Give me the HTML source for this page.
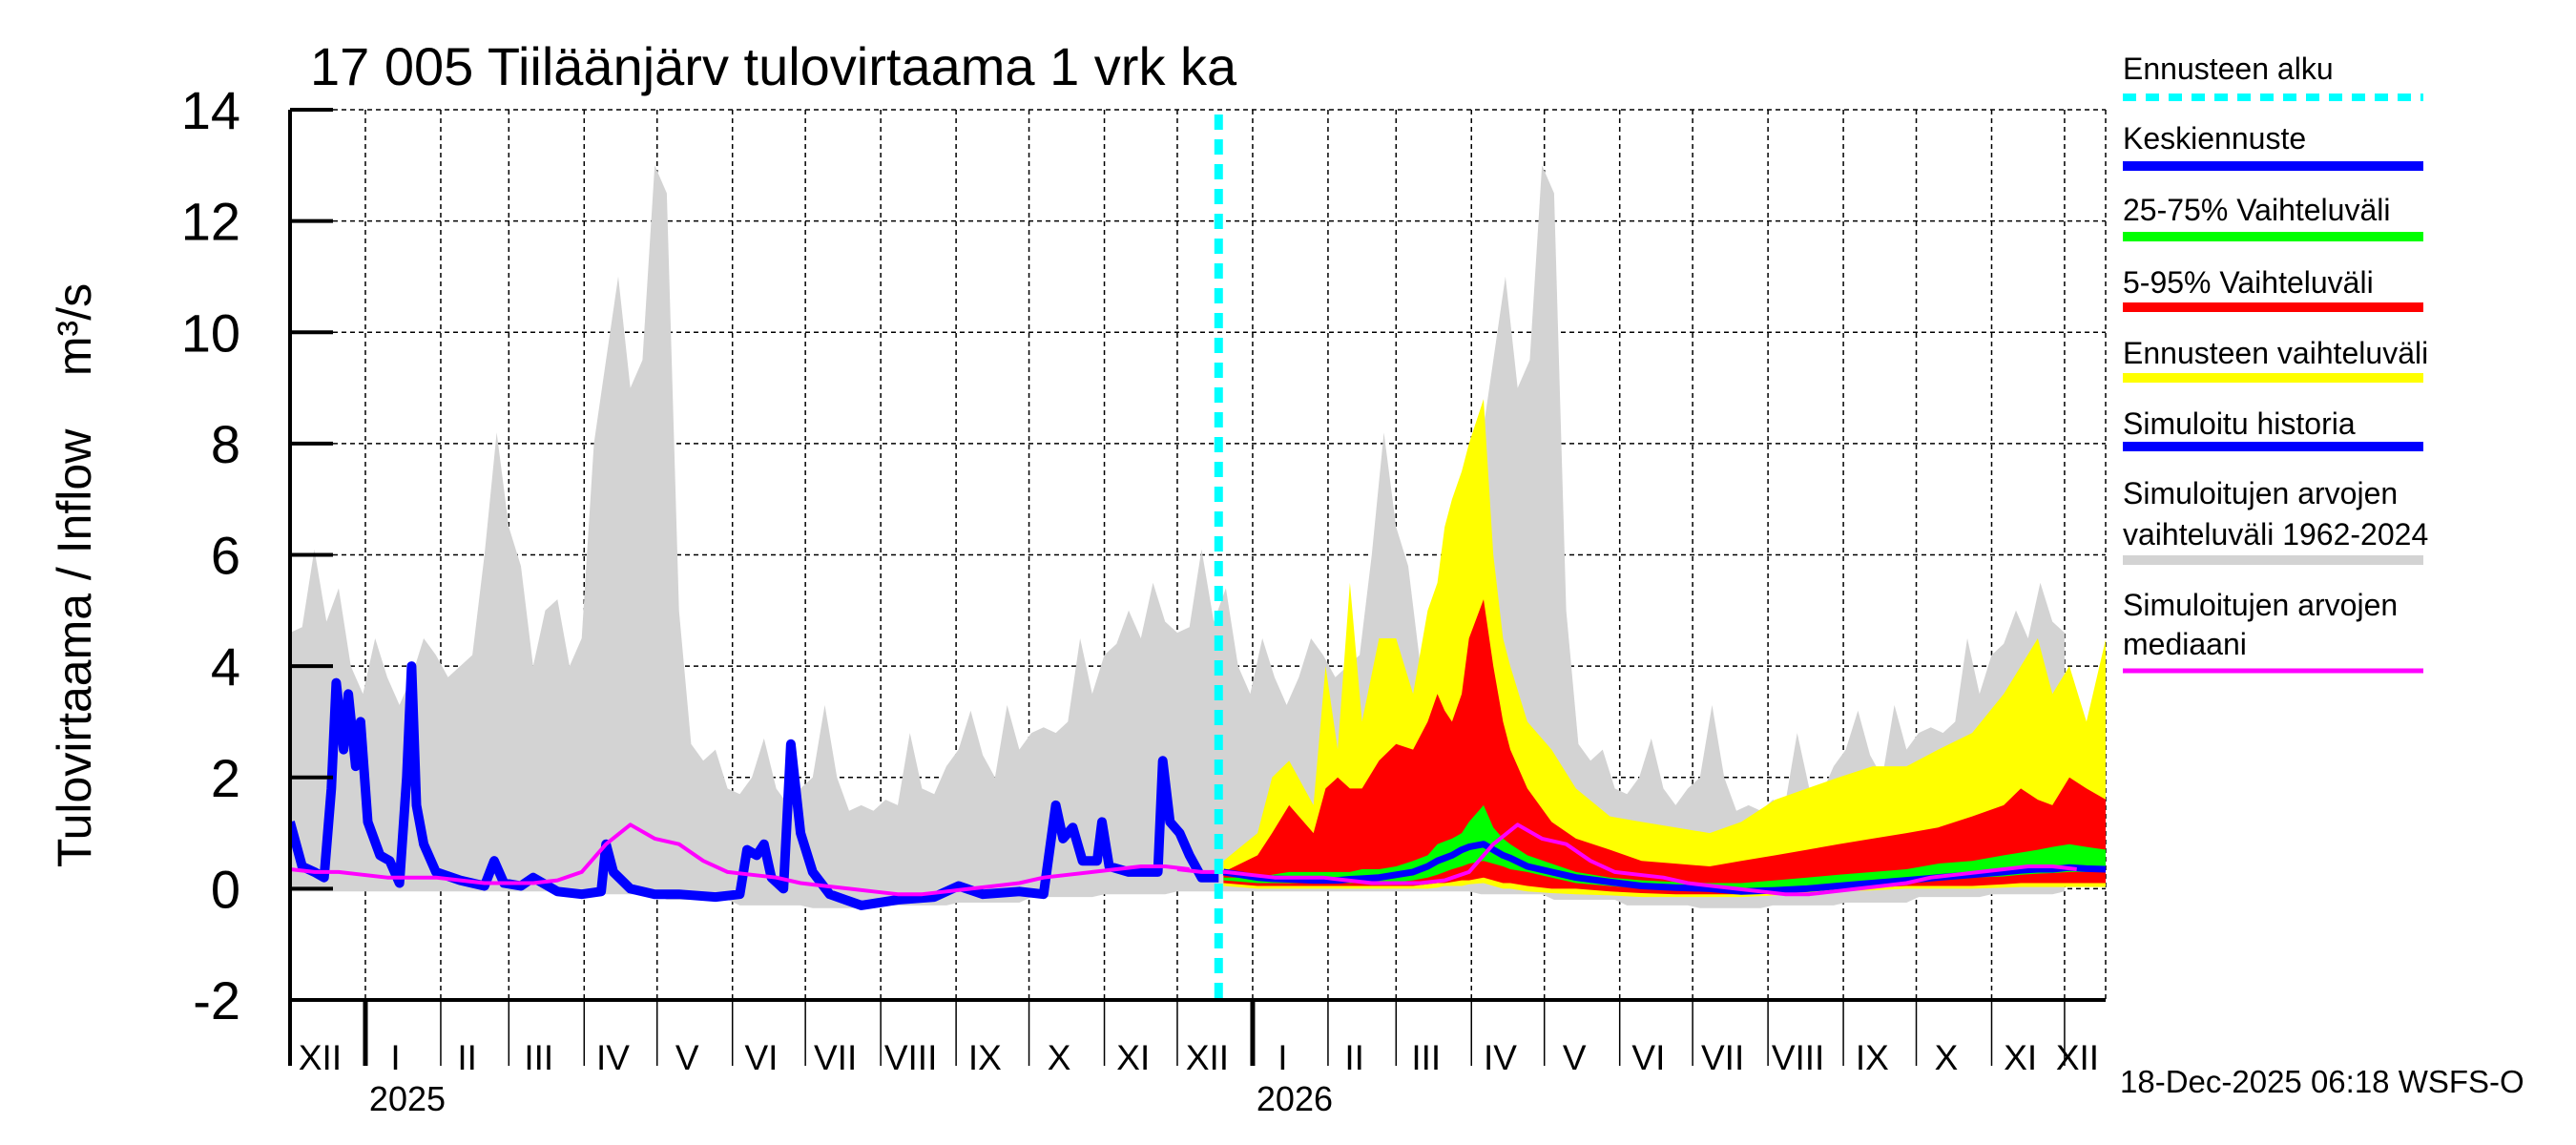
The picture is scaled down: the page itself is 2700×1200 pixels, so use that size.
<!DOCTYPE html>
<html><head><meta charset="utf-8"><style>
html,body{margin:0;padding:0;background:#fff;}
svg{display:block;font-family:"Liberation Sans",Arial,sans-serif;}
</style></head><body>
<svg id="chart" width="2700" height="1200" viewBox="0 0 2700 1200" xmlns="http://www.w3.org/2000/svg">
<rect width="2700" height="1200" fill="#fff"/>
<defs><clipPath id="plotclip"><rect x="304" y="115" width="1903" height="933"/></clipPath></defs>
<g id="grid"></g>
<g id="marks" clip-path="url(#plotclip)"></g>
<g id="axes"></g>
<text x="325" y="89" font-size="56">17 005 Tiiläänjärv tulovirtaama 1 vrk ka</text>
<text transform="translate(95,603) rotate(-90)" text-anchor="middle" font-size="50" style="white-space:pre">Tulovirtaama / Inflow    m³/s</text>
<text x="2222" y="1145" font-size="33">18-Dec-2025 06:18 WSFS-O</text>
<g id="legend" font-size="32">
 <g><text x="2225" y="83">Ennusteen alku</text><line x1="2225" y1="102" x2="2540" y2="102" stroke="#00ffff" stroke-width="8" stroke-dasharray="14,10"/></g>
 <g><text x="2225" y="156">Keskiennuste</text><line x1="2225" y1="174" x2="2540" y2="174" stroke="#0000ff" stroke-width="10"/></g>
 <g><text x="2225" y="231">25-75% Vaihteluväli</text><line x1="2225" y1="248" x2="2540" y2="248" stroke="#00ff00" stroke-width="10"/></g>
 <g><text x="2225" y="307">5-95% Vaihteluväli</text><line x1="2225" y1="322" x2="2540" y2="322" stroke="#ff0000" stroke-width="10"/></g>
 <g><text x="2225" y="381">Ennusteen vaihteluväli</text><line x1="2225" y1="396" x2="2540" y2="396" stroke="#ffff00" stroke-width="10"/></g>
 <g><text x="2225" y="455">Simuloitu historia</text><line x1="2225" y1="468" x2="2540" y2="468" stroke="#0000ff" stroke-width="10"/></g>
 <g><text x="2225" y="528">Simuloitujen arvojen</text><text x="2225" y="571">vaihteluväli 1962-2024</text><line x1="2225" y1="587" x2="2540" y2="587" stroke="#d3d3d3" stroke-width="10"/></g>
 <g><text x="2225" y="645">Simuloitujen arvojen</text><text x="2225" y="686">mediaani</text><line x1="2225" y1="703" x2="2540" y2="703" stroke="#ff00ff" stroke-width="5"/></g>
</g>
</svg>
<script>
// ---- data ----
const yTicks = [-2,0,2,4,6,8,10,12,14];
const monthLabels = ["XII","I","II","III","IV","V","VI","VII","VIII","IX","X","XI","XII","I","II","III","IV","V","VI","VII","VIII","IX","X","XI","XII"];
const monthStartDays = [0,31,62,90,121,151,182,212,243,274,304,335,365,396,427,455,486,516,547,577,608,639,669,700,730];
const yearLabels = ["2025","2026"];
const yearDays = [31,396];
const forecastStartDay = 382;
// climatology (5-day steps from 1 Dec)
const climMax = [4.6,4.7,6.1,4.8,5.4,4.0, 3.5,4.5,3.8,3.3,3.8,4.5, 4.2,3.8,4.0,4.2,6.0,8.2, 6.5,5.8,4.0,5.0,5.2,4.0, 4.5,8.0,9.5,11.0,9.0,9.5, 13.0,12.5,5.0,2.6,2.3,2.5, 1.8,1.7,2.0,2.7,1.8,1.5, 1.8,2.0,3.3,2.0,1.4,1.5, 1.4,1.6,1.5,2.8,1.8,1.7, 2.2,2.5,3.2,2.4,2.0,3.3, 2.5,2.8,2.9,2.8,3.0,4.5, 3.5,4.2,4.4,5.0,4.5,5.5, 4.8];
const climMinMonthly = [-0.05,-0.05,-0.05,-0.05,-0.1,-0.2,-0.3,-0.35,-0.3,-0.25,-0.15,-0.1,-0.05];
const climMedian = [0.35,0.3,0.3,0.25,0.2,0.2,0.2,0.15,0.1,0.1,0.1,0.15,0.3,0.8,1.15,0.9,0.8,0.5,0.3,0.25,0.2,0.1,0.05,0.0,-0.05,-0.1,-0.1,-0.05,0.0,0.05,0.1,0.2,0.25,0.3,0.35,0.4,0.4,0.35];
// simulated history
const histDays = [0,5,10,14,17,19,22,24,27,29,32,37,41,45,48,50,52,55,60,70,80,84,88,95,100,110,120,128,130,133,140,150,160,175,185,188,192,195,198,203,206,210,215,222,235,250,265,275,285,300,310,315,318,322,326,332,334,337,345,355,357,359,362,366,370,375,382];
const histVals = [1.2,0.4,0.3,0.2,1.8,3.7,2.5,3.5,2.2,3.0,1.2,0.6,0.5,0.1,2.0,4.0,1.5,0.8,0.3,0.15,0.05,0.5,0.1,0.05,0.2,-0.05,-0.1,-0.05,0.8,0.3,0.0,-0.1,-0.1,-0.15,-0.1,0.7,0.6,0.8,0.2,0.0,2.6,1.0,0.3,-0.1,-0.3,-0.2,-0.15,0.05,-0.1,-0.05,-0.1,1.5,0.9,1.1,0.5,0.5,1.2,0.4,0.3,0.3,0.3,2.3,1.2,1.0,0.6,0.2,0.2];
// forecast
const fcDays = [384,398,404,411,421,426,431,436,441,448,455,462,468,472,475,478,482,485,491,495,499,502,509,519,529,543,556,570,584,597,611,624,637,651,665,678,692,705,712,719,725,732,739,747];
const yellowHigh = [0.5,1.0,2.0,2.3,1.5,4.0,2.5,5.5,3.0,4.5,4.5,3.5,5.0,5.5,6.5,7.0,7.5,8.0,8.8,6.0,4.5,4.0,3.0,2.5,1.8,1.3,1.2,1.1,1.0,1.2,1.6,1.8,2.0,2.2,2.2,2.5,2.8,3.5,4.0,4.5,3.5,4.0,3.0,4.5];
const yellowLow  = [0.05,0.0,0.0,0.0,0.0,0.0,0.0,0.0,0.0,0.0,0.0,0.0,0.0,0.02,0.05,0.05,0.05,0.08,0.1,0.05,0.0,0.0,-0.05,-0.08,-0.1,-0.12,-0.15,-0.15,-0.15,-0.15,-0.12,-0.1,-0.05,-0.03,0.0,0.0,0.0,0.02,0.03,0.03,0.03,0.03,0.03,0.03];
const redHigh = [0.3,0.6,1.0,1.5,1.0,1.8,2.0,1.8,1.8,2.3,2.6,2.5,3.0,3.5,3.2,3.0,3.5,4.5,5.2,4.0,3.0,2.5,1.8,1.2,0.9,0.7,0.5,0.45,0.4,0.5,0.6,0.7,0.8,0.9,1.0,1.1,1.3,1.5,1.8,1.6,1.5,2.0,1.8,1.6];
const redLow  = [0.1,0.05,0.05,0.05,0.05,0.05,0.05,0.05,0.05,0.05,0.05,0.05,0.08,0.1,0.1,0.12,0.15,0.15,0.2,0.15,0.1,0.1,0.05,0.0,0.0,-0.05,-0.08,-0.1,-0.1,-0.1,-0.08,-0.05,0.0,0.02,0.05,0.05,0.05,0.08,0.1,0.1,0.1,0.1,0.1,0.1];
const greenHigh = [0.2,0.2,0.25,0.3,0.3,0.3,0.3,0.3,0.35,0.35,0.4,0.5,0.6,0.8,0.85,0.9,1.0,1.2,1.5,1.1,0.9,0.8,0.6,0.45,0.3,0.2,0.15,0.12,0.1,0.1,0.15,0.2,0.25,0.3,0.35,0.45,0.5,0.6,0.65,0.7,0.75,0.8,0.75,0.7];
const greenLow  = [0.15,0.1,0.1,0.1,0.1,0.1,0.1,0.1,0.1,0.1,0.12,0.15,0.2,0.25,0.3,0.35,0.4,0.45,0.5,0.45,0.4,0.35,0.3,0.2,0.1,0.05,0.0,-0.03,-0.05,-0.05,0.0,0.03,0.05,0.1,0.12,0.15,0.2,0.22,0.25,0.27,0.28,0.3,0.3,0.3];
const meanFc = [0.3,0.2,0.18,0.17,0.15,0.15,0.15,0.17,0.18,0.2,0.25,0.3,0.4,0.5,0.55,0.6,0.7,0.75,0.8,0.7,0.6,0.55,0.4,0.3,0.2,0.12,0.05,0.02,0.0,-0.05,-0.03,0.0,0.05,0.1,0.15,0.2,0.25,0.3,0.33,0.35,0.35,0.38,0.36,0.35];

// ---- axis functions ----
const X0=304, X1=2207, Y0=115, Y1=1048, DAYS=746.9, VMIN=-2, VMAX=14;
const xs = d => X0 + d*(X1-X0)/DAYS;
const ys = v => Y1 - (v-VMIN)*(Y1-Y0)/(VMAX-VMIN);
const NS="http://www.w3.org/2000/svg";
function mk(tag, attrs, parent){const e=document.createElementNS(NS,tag);for(const k in attrs)e.setAttribute(k,attrs[k]);parent.appendChild(e);return e;}
const grid=document.getElementById('grid'), marks=document.getElementById('marks'), axes=document.getElementById('axes');
function pts(days, vals){return days.map((d,i)=>xs(d).toFixed(1)+','+ys(vals[i]).toFixed(1));}
function band(days, lo, hi, color, name){
  const p=pts(days,hi).concat(pts(days,lo).reverse());
  const e=mk('polygon',{points:p.join(' '),fill:color},marks);
  
  
}
function line(days, vals, color, w, name){
  const e=mk('polyline',{points:pts(days,vals).join(' '),fill:'none',stroke:color,'stroke-width':w,'stroke-linejoin':'round'},marks);
  
  
}

// grid
yTicks.forEach(v=>{
  if(v>VMIN){const g=mk('line',{x1:X0,x2:X1,y1:ys(v),y2:ys(v),stroke:'#000','stroke-width':1.5,'stroke-dasharray':'5,4'},grid);
  
  }
});
monthStartDays.forEach(d=>{
  if(d>0){const g=mk('line',{x1:xs(d),x2:xs(d),y1:Y0,y2:Y1,stroke:'#000','stroke-width':1.5,'stroke-dasharray':'5,4'},grid);
  
  }
});
{const g=mk('line',{x1:X1,x2:X1,y1:Y0,y2:Y1,stroke:'#000','stroke-width':1.5,'stroke-dasharray':'5,4'},grid);

}

// climatology range (two years)
const climDays = climMax.map((_,i)=>i*5);
const climMin = climDays.map(d=>climMinMonthly[Math.min(12,Math.floor(d/30.4))]);
[0,365].forEach(off=>{
  band(climDays.map(d=>d+off).concat([365+off]), climMin.concat([climMin[0]]), climMax.concat([climMax[0]]), '#d3d3d3', 'simulated-range-area');
});
// forecast bands
band(fcDays, yellowLow, yellowHigh, '#ffff00', 'forecast-range-area');
band(fcDays, redLow, redHigh, '#ff0000', 'range-5-95-area');
band(fcDays, greenLow, greenHigh, '#00ff00', 'range-25-75-area');
line(fcDays, meanFc, '#0000ff', 7, 'mean-forecast-line');
// history
line(histDays, histVals, '#0000ff', 10, 'simulated-history-line');
// median (two years)
[0,365].forEach(off=>{
  line(climMedian.map((_,i)=>i*10+off), climMedian, '#ff00ff', 4, 'simulated-median-line');
});
// forecast start line
{const e=mk('line',{x1:xs(forecastStartDay),x2:xs(forecastStartDay),y1:Y0+5,y2:Y1,stroke:'#00ffff','stroke-width':9,'stroke-dasharray':'16,10'},marks);

}

// axes
mk('line',{x1:X0,x2:X0,y1:Y0,y2:1117,stroke:'#000','stroke-width':4},axes);
mk('line',{x1:X0-2,x2:X1,y1:Y1,y2:Y1,stroke:'#000','stroke-width':4},axes);
yTicks.forEach(v=>{
  const t=mk('line',{x1:X0,x2:X0+45,y1:ys(v),y2:ys(v),stroke:'#000','stroke-width':4},axes);
  
  
  const l=mk('text',{x:252,y:ys(v)+20,'text-anchor':'end','font-size':56},axes);
  l.textContent=v;
  
  
});
monthStartDays.forEach((d,i)=>{
  if(d>0){
    const thick = yearDays.indexOf(d)>=0;
    const t=mk('line',{x1:xs(d),x2:xs(d),y1:Y1,y2:1117,stroke:'#000','stroke-width':thick?5:1.5},axes);
    
    
  }
  const end = i+1<monthStartDays.length ? monthStartDays[i+1] : DAYS;
  const l=mk('text',{x:(xs(d)+xs(Math.min(end,DAYS)))/2-8,y:1121,'text-anchor':'middle','font-size':37},axes);
  l.textContent=monthLabels[i];
  
  
});
yearLabels.forEach((y,i)=>{
  const l=mk('text',{x:xs(yearDays[i])+44,y:1164,'text-anchor':'middle','font-size':36},axes);
  l.textContent=y;
  
  
});
</script>
</body></html>
